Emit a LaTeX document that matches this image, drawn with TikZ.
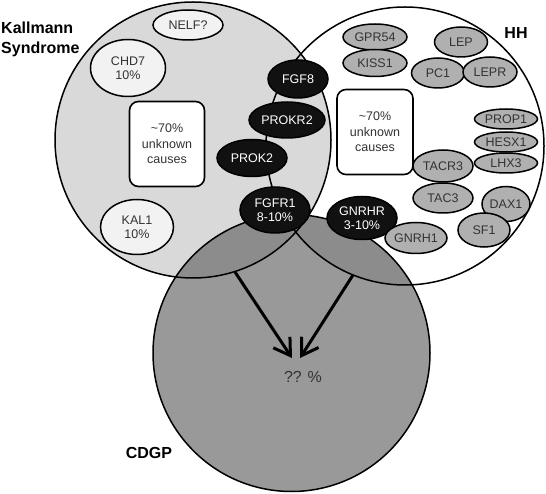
\documentclass[tikz,border=0pt]{standalone}
\usepackage{fontspec}
\setmainfont{Liberation Sans}
\usetikzlibrary{shapes.geometric,arrows.meta}
\definecolor{ksfill}{HTML}{D9D9D9}
\definecolor{cdfill}{HTML}{999999}
\definecolor{ovfill}{HTML}{8C8C8C}
\definecolor{lfill}{HTML}{F2F2F2}
\definecolor{gfill}{HTML}{B0B0B0}
\definecolor{bfill}{HTML}{111111}
\definecolor{txt}{HTML}{333333}
\tikzset{
  nodebase/.style={ellipse, draw=black, line width=1.5pt, inner sep=0pt, align=center,
    font=\fontsize{12.5}{14}\selectfont},
  lnode/.style={nodebase, fill=lfill, text=txt},
  gnode/.style={nodebase, fill=gfill, text=txt},
  bnode/.style={nodebase, fill=bfill, text=white},
  ubox/.style={draw=black, line width=1.6pt, rounded corners=9pt, fill=white, text=txt,
    align=center, inner sep=0pt, minimum width=75pt, minimum height=85pt,
    font=\fontsize{12.5}{15.5}\selectfont},
  circ/.style={draw=black, line width=1.5pt},
  bigarrow/.style={line width=3pt, -{Straight Barb[length=16pt,width=20pt]}},
  title/.style={font=\fontsize{16}{20}\selectfont\bfseries, text=black, inner sep=0pt}
}
\begin{document}
\begin{tikzpicture}[x=1pt,y=-1pt]
\useasboundingbox (0,0) rectangle (546,494);
% circle centres
\coordinate (KSc) at (193,140);
\coordinate (HHc) at (405,146);
\coordinate (CDc) at (291.5,353);
% fills
\fill[white] (HHc) circle[radius=139];
\fill[ksfill] (KSc) circle[radius=138];
\fill[cdfill] (CDc) circle[radius=138.5];
\begin{scope}
  \clip (CDc) circle[radius=138.5];
  \fill[ovfill] (KSc) circle[radius=138];
  \fill[ovfill] (HHc) circle[radius=139];
\end{scope}
% outlines
\draw[circ] (KSc) circle[radius=138];
\draw[circ] (HHc) circle[radius=139];
\draw[circ] (CDc) circle[radius=138.5];
% labels
\node[title, anchor=north west, align=left] (ks) at (1,22) {Kallmann\\Syndrome};
\node[title] (hh) at (516,33) {HH};
\node[title] (cdgp) at (149,453) {CDGP};
% question
\node[font=\fontsize{16}{18}\selectfont, text=txt, inner sep=1pt] (q) at (303,377) {?? \%};
\coordinate (a1s) at (235,272);
\coordinate (a1e) at (292,358);
\coordinate (a2s) at (353,275);
\coordinate (a2e) at (300,358);
\draw[bigarrow] (a1s) -- (a1e);
\draw[bigarrow] (a2s) -- (a2e);
% Kallmann nodes
\node[lnode, minimum width=70pt, minimum height=30pt] (nelf) at (188,25) {NELF?};
\node[lnode, minimum width=75pt, minimum height=57pt] (chd7) at (128,68) {CHD7\\10\%};
\node[lnode, minimum width=73pt, minimum height=55pt] (kal1) at (137,227) {KAL1\\10\%};
\node[ubox] (ksbox) at (167,144) {\textasciitilde70\%\\unknown\\causes};
% shared black nodes
\node[bnode, minimum width=60pt, minimum height=38pt] (fgf8) at (298,79) {FGF8};
\node[bnode, minimum width=76pt, minimum height=36pt] (prokr2) at (287,120) {PROKR2};
\node[bnode, minimum width=70pt, minimum height=37pt] (prok2) at (252,158) {PROK2};
\node[bnode, minimum width=70pt, minimum height=46pt] (fgfr1) at (275,210) {FGFR1\\8-10\%};
\node[bnode, minimum width=70pt, minimum height=43pt] (gnrhr) at (362,218) {GNRHR\\3-10\%};
% HH nodes
\node[gnode, minimum width=64pt, minimum height=26pt] (gpr54) at (375,37) {GPR54};
\node[gnode, minimum width=64pt, minimum height=27pt] (kiss1) at (375,63) {KISS1};
\node[gnode, minimum width=53pt, minimum height=30pt] (lep) at (461,42) {LEP};
\node[gnode, minimum width=53pt, minimum height=30pt] (pc1) at (438,73) {PC1};
\node[gnode, minimum width=54pt, minimum height=30pt] (lepr) at (490,72) {LEPR};
\node[ubox, minimum width=76pt] (hhbox) at (375,132) {\textasciitilde70\%\\unknown\\causes};
\node[gnode, minimum width=63pt, minimum height=20pt] (prop1) at (506,119) {PROP1};
\node[gnode, minimum width=63pt, minimum height=20pt] (hesx1) at (506,142) {HESX1};
\node[gnode, minimum width=63pt, minimum height=20pt] (lhx3) at (506,163) {LHX3};
\node[gnode, minimum width=60pt, minimum height=32pt] (tacr3) at (443,166) {TACR3};
\node[gnode, minimum width=60pt, minimum height=30pt] (tac3) at (443,198) {TAC3};
\node[gnode, minimum width=48pt, minimum height=35pt] (dax1) at (506,204) {DAX1};
\node[gnode, minimum width=52pt, minimum height=34pt] (sf1) at (484,230) {SF1};
\node[gnode, minimum width=62pt, minimum height=31pt] (gnrh1) at (416,238) {GNRH1};
\end{tikzpicture}
\end{document}
